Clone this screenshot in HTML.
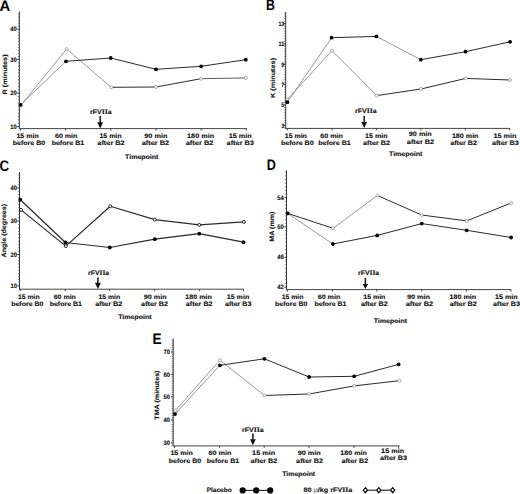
<!DOCTYPE html>
<html><head><meta charset="utf-8"><style>
html,body{margin:0;padding:0;background:#fff;overflow:hidden;}
svg{display:block;font-family:"Liberation Sans", sans-serif;text-rendering:geometricPrecision;}
</style></head><body>
<svg width="520" height="494" viewBox="0 0 520 494">
<rect width="520" height="494" fill="#fff"/>
<line x1="19.35" y1="11.6" x2="19.35" y2="129.1" stroke="#333" stroke-width="1"/>
<line x1="17.95" y1="32.22" x2="19.35" y2="32.22" stroke="#555" stroke-width="0.8"/>
<line x1="17.95" y1="35.24" x2="19.35" y2="35.24" stroke="#555" stroke-width="0.8"/>
<line x1="17.95" y1="38.26" x2="19.35" y2="38.26" stroke="#555" stroke-width="0.8"/>
<line x1="17.95" y1="41.28" x2="19.35" y2="41.28" stroke="#555" stroke-width="0.8"/>
<line x1="17.95" y1="44.3" x2="19.35" y2="44.3" stroke="#555" stroke-width="0.8"/>
<line x1="17.95" y1="47.32" x2="19.35" y2="47.32" stroke="#555" stroke-width="0.8"/>
<line x1="17.95" y1="50.34" x2="19.35" y2="50.34" stroke="#555" stroke-width="0.8"/>
<line x1="17.95" y1="53.36" x2="19.35" y2="53.36" stroke="#555" stroke-width="0.8"/>
<line x1="17.95" y1="56.38" x2="19.35" y2="56.38" stroke="#555" stroke-width="0.8"/>
<line x1="17.95" y1="62.78" x2="19.35" y2="62.78" stroke="#555" stroke-width="0.8"/>
<line x1="17.95" y1="66.16" x2="19.35" y2="66.16" stroke="#555" stroke-width="0.8"/>
<line x1="17.95" y1="69.54" x2="19.35" y2="69.54" stroke="#555" stroke-width="0.8"/>
<line x1="17.95" y1="72.92" x2="19.35" y2="72.92" stroke="#555" stroke-width="0.8"/>
<line x1="17.95" y1="76.3" x2="19.35" y2="76.3" stroke="#555" stroke-width="0.8"/>
<line x1="17.95" y1="79.68" x2="19.35" y2="79.68" stroke="#555" stroke-width="0.8"/>
<line x1="17.95" y1="83.06" x2="19.35" y2="83.06" stroke="#555" stroke-width="0.8"/>
<line x1="17.95" y1="86.44" x2="19.35" y2="86.44" stroke="#555" stroke-width="0.8"/>
<line x1="17.95" y1="89.82" x2="19.35" y2="89.82" stroke="#555" stroke-width="0.8"/>
<line x1="17.95" y1="96.54" x2="19.35" y2="96.54" stroke="#555" stroke-width="0.8"/>
<line x1="17.95" y1="99.88" x2="19.35" y2="99.88" stroke="#555" stroke-width="0.8"/>
<line x1="17.95" y1="103.22" x2="19.35" y2="103.22" stroke="#555" stroke-width="0.8"/>
<line x1="17.95" y1="106.56" x2="19.35" y2="106.56" stroke="#555" stroke-width="0.8"/>
<line x1="17.95" y1="109.9" x2="19.35" y2="109.9" stroke="#555" stroke-width="0.8"/>
<line x1="17.95" y1="113.24" x2="19.35" y2="113.24" stroke="#555" stroke-width="0.8"/>
<line x1="17.95" y1="116.58" x2="19.35" y2="116.58" stroke="#555" stroke-width="0.8"/>
<line x1="17.95" y1="119.92" x2="19.35" y2="119.92" stroke="#555" stroke-width="0.8"/>
<line x1="17.95" y1="123.26" x2="19.35" y2="123.26" stroke="#555" stroke-width="0.8"/>
<line x1="17.95" y1="26.18" x2="19.35" y2="26.18" stroke="#555" stroke-width="0.8"/>
<line x1="17.95" y1="23.16" x2="19.35" y2="23.16" stroke="#555" stroke-width="0.8"/>
<line x1="17.95" y1="20.14" x2="19.35" y2="20.14" stroke="#555" stroke-width="0.8"/>
<line x1="17.95" y1="17.12" x2="19.35" y2="17.12" stroke="#555" stroke-width="0.8"/>
<line x1="17.95" y1="14.1" x2="19.35" y2="14.1" stroke="#555" stroke-width="0.8"/>
<line x1="17.15" y1="29.2" x2="19.35" y2="29.2" stroke="#333" stroke-width="1"/>
<text x="16.85" y="31.4" font-size="6.3" text-anchor="end" font-weight="bold" fill="#111" stroke="#111" stroke-width="0.12" textLength="6.5" lengthAdjust="spacingAndGlyphs">40</text>
<line x1="17.15" y1="59.4" x2="19.35" y2="59.4" stroke="#333" stroke-width="1"/>
<text x="16.85" y="61.6" font-size="6.3" text-anchor="end" font-weight="bold" fill="#111" stroke="#111" stroke-width="0.12" textLength="6.5" lengthAdjust="spacingAndGlyphs">30</text>
<line x1="17.15" y1="93.2" x2="19.35" y2="93.2" stroke="#333" stroke-width="1"/>
<text x="16.85" y="95.4" font-size="6.3" text-anchor="end" font-weight="bold" fill="#111" stroke="#111" stroke-width="0.12" textLength="6.5" lengthAdjust="spacingAndGlyphs">20</text>
<line x1="17.15" y1="126.6" x2="19.35" y2="126.6" stroke="#333" stroke-width="1"/>
<text x="16.85" y="128.8" font-size="6.3" text-anchor="end" font-weight="bold" fill="#111" stroke="#111" stroke-width="0.12" textLength="6.5" lengthAdjust="spacingAndGlyphs">10</text>
<line x1="19.35" y1="128.6" x2="246.8" y2="128.6" stroke="#444" stroke-width="1"/>
<line x1="20.4" y1="128.6" x2="20.4" y2="130.6" stroke="#333" stroke-width="0.9"/>
<line x1="65.6" y1="128.6" x2="65.6" y2="130.6" stroke="#333" stroke-width="0.9"/>
<line x1="110.8" y1="128.6" x2="110.8" y2="130.6" stroke="#333" stroke-width="0.9"/>
<line x1="156" y1="128.6" x2="156" y2="130.6" stroke="#333" stroke-width="0.9"/>
<line x1="201.1" y1="128.6" x2="201.1" y2="130.6" stroke="#333" stroke-width="0.9"/>
<line x1="246.3" y1="128.6" x2="246.3" y2="130.6" stroke="#333" stroke-width="0.9"/>
<text x="27.6" y="137.6" font-size="6.4" text-anchor="middle" font-weight="bold" fill="#111" stroke="#111" stroke-width="0.12" textLength="22.3" lengthAdjust="spacingAndGlyphs">15 min</text>
<text x="29" y="144.8" font-size="6.4" text-anchor="middle" font-weight="bold" fill="#111" stroke="#111" stroke-width="0.12" textLength="32.3" lengthAdjust="spacingAndGlyphs">before B0</text>
<text x="66.2" y="137.6" font-size="6.4" text-anchor="middle" font-weight="bold" fill="#111" stroke="#111" stroke-width="0.12" textLength="22.4" lengthAdjust="spacingAndGlyphs">60 min</text>
<text x="67.9" y="144.8" font-size="6.4" text-anchor="middle" font-weight="bold" fill="#111" stroke="#111" stroke-width="0.12" textLength="32.5" lengthAdjust="spacingAndGlyphs">before B1</text>
<text x="110.5" y="137.6" font-size="6.4" text-anchor="middle" font-weight="bold" fill="#111" stroke="#111" stroke-width="0.12" textLength="22.2" lengthAdjust="spacingAndGlyphs">15 min</text>
<text x="111" y="144.8" font-size="6.4" text-anchor="middle" font-weight="bold" fill="#111" stroke="#111" stroke-width="0.12" textLength="27.3" lengthAdjust="spacingAndGlyphs">after B2</text>
<text x="155.9" y="137.6" font-size="6.4" text-anchor="middle" font-weight="bold" fill="#111" stroke="#111" stroke-width="0.12" textLength="23.2" lengthAdjust="spacingAndGlyphs">90 min</text>
<text x="155.4" y="144.8" font-size="6.4" text-anchor="middle" font-weight="bold" fill="#111" stroke="#111" stroke-width="0.12" textLength="27.5" lengthAdjust="spacingAndGlyphs">after B2</text>
<text x="200.6" y="137.6" font-size="6.4" text-anchor="middle" font-weight="bold" fill="#111" stroke="#111" stroke-width="0.12" textLength="27" lengthAdjust="spacingAndGlyphs">180 min</text>
<text x="199.6" y="144.8" font-size="6.4" text-anchor="middle" font-weight="bold" fill="#111" stroke="#111" stroke-width="0.12" textLength="27.8" lengthAdjust="spacingAndGlyphs">after B2</text>
<text x="240.25" y="137.6" font-size="6.4" text-anchor="middle" font-weight="bold" fill="#111" stroke="#111" stroke-width="0.12" textLength="23" lengthAdjust="spacingAndGlyphs">15 min</text>
<text x="240.25" y="144.8" font-size="6.4" text-anchor="middle" font-weight="bold" fill="#111" stroke="#111" stroke-width="0.12" textLength="27.3" lengthAdjust="spacingAndGlyphs">after B3</text>
<text x="141.75" y="159.4" font-size="6.4" text-anchor="middle" font-weight="bold" fill="#111" stroke="#111" stroke-width="0.12" textLength="33.3" lengthAdjust="spacingAndGlyphs">Timepoint</text>
<text x="7.1" y="74.45" font-size="6.4" text-anchor="middle" font-weight="bold" fill="#111" stroke="#111" stroke-width="0.12" textLength="40.1" lengthAdjust="spacingAndGlyphs" transform="rotate(-90 7.1 74.45)">R (minutes)</text>
<text x="-0.4" y="10.5" font-size="15.2" text-anchor="start" font-weight="bold" fill="#000" textLength="10.8" lengthAdjust="spacingAndGlyphs">A</text>
<text x="100.9" y="114.4" font-size="6.4" text-anchor="middle" font-weight="bold" fill="#111" stroke="#111" stroke-width="0.12" textLength="21.6" lengthAdjust="spacingAndGlyphs">rFV<tspan font-family="Liberation Serif" font-size="7.0">II</tspan>a</text>
<line x1="100.2" y1="115.9" x2="100.2" y2="122.8" stroke="#111" stroke-width="1.5"/>
<polygon points="97.3,122.3 103.1,122.3 100.2,128.4" fill="#111"/>
<line x1="20.6" y1="105.6" x2="66.6" y2="49.1" stroke="#8c8c8c" stroke-width="0.9"/>
<line x1="66.6" y1="49.1" x2="111.2" y2="87.3" stroke="#8c8c8c" stroke-width="0.9"/>
<line x1="111.2" y1="87.3" x2="156" y2="87" stroke="#2a2a2a" stroke-width="1"/>
<line x1="156" y1="87" x2="201.1" y2="78.7" stroke="#2a2a2a" stroke-width="1"/>
<line x1="201.1" y1="78.7" x2="245.9" y2="77.9" stroke="#555" stroke-width="0.95"/>
<line x1="20.6" y1="104.8" x2="66" y2="61.3" stroke="#8c8c8c" stroke-width="0.9"/>
<line x1="66" y1="61.3" x2="110.7" y2="58" stroke="#2a2a2a" stroke-width="1"/>
<line x1="110.7" y1="58" x2="156" y2="69.3" stroke="#2a2a2a" stroke-width="1"/>
<line x1="156" y1="69.3" x2="201.1" y2="66.3" stroke="#2a2a2a" stroke-width="1"/>
<line x1="201.1" y1="66.3" x2="245.8" y2="59.7" stroke="#2a2a2a" stroke-width="1"/>
<circle cx="20.6" cy="105.6" r="1.5" fill="#fff" stroke="#8a8a8a" stroke-width="0.7"/>
<circle cx="66.6" cy="49.1" r="1.5" fill="#fff" stroke="#8a8a8a" stroke-width="0.7"/>
<circle cx="111.2" cy="87.3" r="1.5" fill="#fff" stroke="#8a8a8a" stroke-width="0.7"/>
<circle cx="156" cy="87" r="1.5" fill="#fff" stroke="#8a8a8a" stroke-width="0.7"/>
<circle cx="201.1" cy="78.7" r="1.5" fill="#fff" stroke="#8a8a8a" stroke-width="0.7"/>
<circle cx="245.9" cy="77.9" r="1.5" fill="#fff" stroke="#8a8a8a" stroke-width="0.7"/>
<circle cx="20.6" cy="104.8" r="1.9" fill="#000" stroke="none" stroke-width="0"/>
<circle cx="66" cy="61.3" r="1.9" fill="#000" stroke="none" stroke-width="0"/>
<circle cx="110.7" cy="58" r="1.9" fill="#000" stroke="none" stroke-width="0"/>
<circle cx="156" cy="69.3" r="1.9" fill="#000" stroke="none" stroke-width="0"/>
<circle cx="201.1" cy="66.3" r="1.9" fill="#000" stroke="none" stroke-width="0"/>
<circle cx="245.8" cy="59.7" r="1.9" fill="#000" stroke="none" stroke-width="0"/>
<line x1="285.7" y1="11.8" x2="285.7" y2="128.9" stroke="#333" stroke-width="1"/>
<line x1="284.3" y1="26.14" x2="285.7" y2="26.14" stroke="#555" stroke-width="0.8"/>
<line x1="284.3" y1="28.69" x2="285.7" y2="28.69" stroke="#555" stroke-width="0.8"/>
<line x1="284.3" y1="31.23" x2="285.7" y2="31.23" stroke="#555" stroke-width="0.8"/>
<line x1="284.3" y1="33.78" x2="285.7" y2="33.78" stroke="#555" stroke-width="0.8"/>
<line x1="284.3" y1="36.32" x2="285.7" y2="36.32" stroke="#555" stroke-width="0.8"/>
<line x1="284.3" y1="38.86" x2="285.7" y2="38.86" stroke="#555" stroke-width="0.8"/>
<line x1="284.3" y1="41.41" x2="285.7" y2="41.41" stroke="#555" stroke-width="0.8"/>
<line x1="284.3" y1="46.49" x2="285.7" y2="46.49" stroke="#555" stroke-width="0.8"/>
<line x1="284.3" y1="49.04" x2="285.7" y2="49.04" stroke="#555" stroke-width="0.8"/>
<line x1="284.3" y1="51.58" x2="285.7" y2="51.58" stroke="#555" stroke-width="0.8"/>
<line x1="284.3" y1="54.12" x2="285.7" y2="54.12" stroke="#555" stroke-width="0.8"/>
<line x1="284.3" y1="56.67" x2="285.7" y2="56.67" stroke="#555" stroke-width="0.8"/>
<line x1="284.3" y1="59.21" x2="285.7" y2="59.21" stroke="#555" stroke-width="0.8"/>
<line x1="284.3" y1="61.76" x2="285.7" y2="61.76" stroke="#555" stroke-width="0.8"/>
<line x1="284.3" y1="66.84" x2="285.7" y2="66.84" stroke="#555" stroke-width="0.8"/>
<line x1="284.3" y1="69.39" x2="285.7" y2="69.39" stroke="#555" stroke-width="0.8"/>
<line x1="284.3" y1="71.93" x2="285.7" y2="71.93" stroke="#555" stroke-width="0.8"/>
<line x1="284.3" y1="74.47" x2="285.7" y2="74.47" stroke="#555" stroke-width="0.8"/>
<line x1="284.3" y1="77.02" x2="285.7" y2="77.02" stroke="#555" stroke-width="0.8"/>
<line x1="284.3" y1="79.56" x2="285.7" y2="79.56" stroke="#555" stroke-width="0.8"/>
<line x1="284.3" y1="82.11" x2="285.7" y2="82.11" stroke="#555" stroke-width="0.8"/>
<line x1="284.3" y1="87.19" x2="285.7" y2="87.19" stroke="#555" stroke-width="0.8"/>
<line x1="284.3" y1="89.74" x2="285.7" y2="89.74" stroke="#555" stroke-width="0.8"/>
<line x1="284.3" y1="92.28" x2="285.7" y2="92.28" stroke="#555" stroke-width="0.8"/>
<line x1="284.3" y1="94.83" x2="285.7" y2="94.83" stroke="#555" stroke-width="0.8"/>
<line x1="284.3" y1="97.37" x2="285.7" y2="97.37" stroke="#555" stroke-width="0.8"/>
<line x1="284.3" y1="99.91" x2="285.7" y2="99.91" stroke="#555" stroke-width="0.8"/>
<line x1="284.3" y1="102.46" x2="285.7" y2="102.46" stroke="#555" stroke-width="0.8"/>
<line x1="284.3" y1="107.54" x2="285.7" y2="107.54" stroke="#555" stroke-width="0.8"/>
<line x1="284.3" y1="110.09" x2="285.7" y2="110.09" stroke="#555" stroke-width="0.8"/>
<line x1="284.3" y1="112.63" x2="285.7" y2="112.63" stroke="#555" stroke-width="0.8"/>
<line x1="284.3" y1="115.17" x2="285.7" y2="115.17" stroke="#555" stroke-width="0.8"/>
<line x1="284.3" y1="117.72" x2="285.7" y2="117.72" stroke="#555" stroke-width="0.8"/>
<line x1="284.3" y1="120.26" x2="285.7" y2="120.26" stroke="#555" stroke-width="0.8"/>
<line x1="284.3" y1="122.81" x2="285.7" y2="122.81" stroke="#555" stroke-width="0.8"/>
<line x1="284.3" y1="21.06" x2="285.7" y2="21.06" stroke="#555" stroke-width="0.8"/>
<line x1="284.3" y1="18.51" x2="285.7" y2="18.51" stroke="#555" stroke-width="0.8"/>
<line x1="284.3" y1="15.97" x2="285.7" y2="15.97" stroke="#555" stroke-width="0.8"/>
<line x1="284.3" y1="13.43" x2="285.7" y2="13.43" stroke="#555" stroke-width="0.8"/>
<line x1="284.3" y1="127.89" x2="285.7" y2="127.89" stroke="#555" stroke-width="0.8"/>
<line x1="283.5" y1="23.6" x2="285.7" y2="23.6" stroke="#333" stroke-width="1"/>
<text x="284.2" y="25.8" font-size="6.3" text-anchor="end" font-weight="bold" fill="#111" stroke="#111" stroke-width="0.12" textLength="5.8" lengthAdjust="spacingAndGlyphs">13</text>
<line x1="283.5" y1="43.95" x2="285.7" y2="43.95" stroke="#333" stroke-width="1"/>
<text x="284.2" y="46.15" font-size="6.3" text-anchor="end" font-weight="bold" fill="#111" stroke="#111" stroke-width="0.12" textLength="5.8" lengthAdjust="spacingAndGlyphs">11</text>
<line x1="283.5" y1="64.3" x2="285.7" y2="64.3" stroke="#333" stroke-width="1"/>
<text x="284.2" y="66.5" font-size="6.3" text-anchor="end" font-weight="bold" fill="#111" stroke="#111" stroke-width="0.12" textLength="2.9" lengthAdjust="spacingAndGlyphs">9</text>
<line x1="283.5" y1="84.65" x2="285.7" y2="84.65" stroke="#333" stroke-width="1"/>
<text x="284.2" y="86.85" font-size="6.3" text-anchor="end" font-weight="bold" fill="#111" stroke="#111" stroke-width="0.12" textLength="2.9" lengthAdjust="spacingAndGlyphs">7</text>
<line x1="283.5" y1="105" x2="285.7" y2="105" stroke="#333" stroke-width="1"/>
<text x="284.2" y="107.2" font-size="6.3" text-anchor="end" font-weight="bold" fill="#111" stroke="#111" stroke-width="0.12" textLength="2.9" lengthAdjust="spacingAndGlyphs">5</text>
<line x1="283.5" y1="125.35" x2="285.7" y2="125.35" stroke="#333" stroke-width="1"/>
<text x="284.2" y="127.55" font-size="6.3" text-anchor="end" font-weight="bold" fill="#111" stroke="#111" stroke-width="0.12" textLength="2.9" lengthAdjust="spacingAndGlyphs">3</text>
<line x1="285.7" y1="128.4" x2="510" y2="128.4" stroke="#444" stroke-width="1"/>
<line x1="287.2" y1="128.4" x2="287.2" y2="130.4" stroke="#333" stroke-width="0.9"/>
<line x1="332" y1="128.4" x2="332" y2="130.4" stroke="#333" stroke-width="0.9"/>
<line x1="376.3" y1="128.4" x2="376.3" y2="130.4" stroke="#333" stroke-width="0.9"/>
<line x1="420.8" y1="128.4" x2="420.8" y2="130.4" stroke="#333" stroke-width="0.9"/>
<line x1="465.3" y1="128.4" x2="465.3" y2="130.4" stroke="#333" stroke-width="0.9"/>
<line x1="509.8" y1="128.4" x2="509.8" y2="130.4" stroke="#333" stroke-width="0.9"/>
<text x="295.8" y="137.6" font-size="6.4" text-anchor="middle" font-weight="bold" fill="#111" stroke="#111" stroke-width="0.12" textLength="22.1" lengthAdjust="spacingAndGlyphs">15 min</text>
<text x="297.3" y="144.9" font-size="6.4" text-anchor="middle" font-weight="bold" fill="#111" stroke="#111" stroke-width="0.12" textLength="32.6" lengthAdjust="spacingAndGlyphs">before B0</text>
<text x="331.6" y="137.6" font-size="6.4" text-anchor="middle" font-weight="bold" fill="#111" stroke="#111" stroke-width="0.12" textLength="22.8" lengthAdjust="spacingAndGlyphs">60 min</text>
<text x="334.5" y="144.9" font-size="6.4" text-anchor="middle" font-weight="bold" fill="#111" stroke="#111" stroke-width="0.12" textLength="32.3" lengthAdjust="spacingAndGlyphs">before B1</text>
<text x="376.3" y="137.6" font-size="6.4" text-anchor="middle" font-weight="bold" fill="#111" stroke="#111" stroke-width="0.12" textLength="22.6" lengthAdjust="spacingAndGlyphs">15 min</text>
<text x="376.5" y="144.9" font-size="6.4" text-anchor="middle" font-weight="bold" fill="#111" stroke="#111" stroke-width="0.12" textLength="26.8" lengthAdjust="spacingAndGlyphs">after B2</text>
<text x="420.3" y="136.2" font-size="6.4" text-anchor="middle" font-weight="bold" fill="#111" stroke="#111" stroke-width="0.12" textLength="23" lengthAdjust="spacingAndGlyphs">90 min</text>
<text x="420.5" y="143.5" font-size="6.4" text-anchor="middle" font-weight="bold" fill="#111" stroke="#111" stroke-width="0.12" textLength="27.3" lengthAdjust="spacingAndGlyphs">after B2</text>
<text x="465.2" y="137.6" font-size="6.4" text-anchor="middle" font-weight="bold" fill="#111" stroke="#111" stroke-width="0.12" textLength="26.6" lengthAdjust="spacingAndGlyphs">180 min</text>
<text x="463.6" y="144.9" font-size="6.4" text-anchor="middle" font-weight="bold" fill="#111" stroke="#111" stroke-width="0.12" textLength="26.8" lengthAdjust="spacingAndGlyphs">after B2</text>
<text x="505" y="137.6" font-size="6.4" text-anchor="middle" font-weight="bold" fill="#111" stroke="#111" stroke-width="0.12" textLength="23" lengthAdjust="spacingAndGlyphs">15 min</text>
<text x="505.4" y="144.9" font-size="6.4" text-anchor="middle" font-weight="bold" fill="#111" stroke="#111" stroke-width="0.12" textLength="27" lengthAdjust="spacingAndGlyphs">after B3</text>
<text x="405.65" y="155.6" font-size="6.4" text-anchor="middle" font-weight="bold" fill="#111" stroke="#111" stroke-width="0.12" textLength="33.3" lengthAdjust="spacingAndGlyphs">Timepoint</text>
<text x="275.2" y="77.95" font-size="6.4" text-anchor="middle" font-weight="bold" fill="#111" stroke="#111" stroke-width="0.12" textLength="40.1" lengthAdjust="spacingAndGlyphs" transform="rotate(-90 275.2 77.95)">K (minutes)</text>
<text x="266.1" y="10.4" font-size="15.2" text-anchor="start" font-weight="bold" fill="#000" textLength="8.9" lengthAdjust="spacingAndGlyphs">B</text>
<text x="365.9" y="112.7" font-size="6.4" text-anchor="middle" font-weight="bold" fill="#111" stroke="#111" stroke-width="0.12" textLength="21.6" lengthAdjust="spacingAndGlyphs">rFV<tspan font-family="Liberation Serif" font-size="7.0">II</tspan>a</text>
<line x1="364.2" y1="115.9" x2="364.2" y2="122.6" stroke="#111" stroke-width="1.5"/>
<polygon points="361.3,122.1 367.1,122.1 364.2,127.9" fill="#111"/>
<line x1="287.4" y1="99.4" x2="332" y2="50.6" stroke="#8c8c8c" stroke-width="0.9"/>
<line x1="332" y1="50.6" x2="376.8" y2="95.6" stroke="#8c8c8c" stroke-width="0.9"/>
<line x1="376.8" y1="95.6" x2="421" y2="89" stroke="#2a2a2a" stroke-width="1"/>
<line x1="421" y1="89" x2="465.7" y2="78.4" stroke="#2a2a2a" stroke-width="1"/>
<line x1="465.7" y1="78.4" x2="510.1" y2="80" stroke="#2a2a2a" stroke-width="1"/>
<line x1="287.4" y1="102.2" x2="331.6" y2="37.7" stroke="#8c8c8c" stroke-width="0.9"/>
<line x1="331.6" y1="37.7" x2="376.4" y2="36.4" stroke="#2a2a2a" stroke-width="1"/>
<line x1="376.4" y1="36.4" x2="420.8" y2="59.7" stroke="#8c8c8c" stroke-width="0.9"/>
<line x1="420.8" y1="59.7" x2="465.5" y2="51.7" stroke="#2a2a2a" stroke-width="1"/>
<line x1="465.5" y1="51.7" x2="510.1" y2="41.8" stroke="#2a2a2a" stroke-width="1"/>
<circle cx="287.4" cy="99.4" r="1.5" fill="#fff" stroke="#8a8a8a" stroke-width="0.7"/>
<circle cx="332" cy="50.6" r="1.5" fill="#fff" stroke="#8a8a8a" stroke-width="0.7"/>
<circle cx="376.8" cy="95.6" r="1.5" fill="#fff" stroke="#8a8a8a" stroke-width="0.7"/>
<circle cx="421" cy="89" r="1.5" fill="#fff" stroke="#8a8a8a" stroke-width="0.7"/>
<circle cx="465.7" cy="78.4" r="1.5" fill="#fff" stroke="#8a8a8a" stroke-width="0.7"/>
<circle cx="510.1" cy="80" r="1.5" fill="#fff" stroke="#8a8a8a" stroke-width="0.7"/>
<circle cx="287.4" cy="102.2" r="1.9" fill="#000" stroke="none" stroke-width="0"/>
<circle cx="331.6" cy="37.7" r="1.9" fill="#000" stroke="none" stroke-width="0"/>
<circle cx="376.4" cy="36.4" r="1.9" fill="#000" stroke="none" stroke-width="0"/>
<circle cx="420.8" cy="59.7" r="1.9" fill="#000" stroke="none" stroke-width="0"/>
<circle cx="465.5" cy="51.7" r="1.9" fill="#000" stroke="none" stroke-width="0"/>
<circle cx="510.1" cy="41.8" r="1.9" fill="#000" stroke="none" stroke-width="0"/>
<line x1="19.5" y1="172" x2="19.5" y2="289.7" stroke="#333" stroke-width="1"/>
<line x1="18.1" y1="191.31" x2="19.5" y2="191.31" stroke="#555" stroke-width="0.8"/>
<line x1="18.1" y1="194.62" x2="19.5" y2="194.62" stroke="#555" stroke-width="0.8"/>
<line x1="18.1" y1="197.93" x2="19.5" y2="197.93" stroke="#555" stroke-width="0.8"/>
<line x1="18.1" y1="201.24" x2="19.5" y2="201.24" stroke="#555" stroke-width="0.8"/>
<line x1="18.1" y1="204.55" x2="19.5" y2="204.55" stroke="#555" stroke-width="0.8"/>
<line x1="18.1" y1="207.86" x2="19.5" y2="207.86" stroke="#555" stroke-width="0.8"/>
<line x1="18.1" y1="211.17" x2="19.5" y2="211.17" stroke="#555" stroke-width="0.8"/>
<line x1="18.1" y1="214.48" x2="19.5" y2="214.48" stroke="#555" stroke-width="0.8"/>
<line x1="18.1" y1="217.79" x2="19.5" y2="217.79" stroke="#555" stroke-width="0.8"/>
<line x1="18.1" y1="224.44" x2="19.5" y2="224.44" stroke="#555" stroke-width="0.8"/>
<line x1="18.1" y1="227.78" x2="19.5" y2="227.78" stroke="#555" stroke-width="0.8"/>
<line x1="18.1" y1="231.12" x2="19.5" y2="231.12" stroke="#555" stroke-width="0.8"/>
<line x1="18.1" y1="234.46" x2="19.5" y2="234.46" stroke="#555" stroke-width="0.8"/>
<line x1="18.1" y1="237.8" x2="19.5" y2="237.8" stroke="#555" stroke-width="0.8"/>
<line x1="18.1" y1="241.14" x2="19.5" y2="241.14" stroke="#555" stroke-width="0.8"/>
<line x1="18.1" y1="244.48" x2="19.5" y2="244.48" stroke="#555" stroke-width="0.8"/>
<line x1="18.1" y1="247.82" x2="19.5" y2="247.82" stroke="#555" stroke-width="0.8"/>
<line x1="18.1" y1="251.16" x2="19.5" y2="251.16" stroke="#555" stroke-width="0.8"/>
<line x1="18.1" y1="257.64" x2="19.5" y2="257.64" stroke="#555" stroke-width="0.8"/>
<line x1="18.1" y1="260.78" x2="19.5" y2="260.78" stroke="#555" stroke-width="0.8"/>
<line x1="18.1" y1="263.92" x2="19.5" y2="263.92" stroke="#555" stroke-width="0.8"/>
<line x1="18.1" y1="267.06" x2="19.5" y2="267.06" stroke="#555" stroke-width="0.8"/>
<line x1="18.1" y1="270.2" x2="19.5" y2="270.2" stroke="#555" stroke-width="0.8"/>
<line x1="18.1" y1="273.34" x2="19.5" y2="273.34" stroke="#555" stroke-width="0.8"/>
<line x1="18.1" y1="276.48" x2="19.5" y2="276.48" stroke="#555" stroke-width="0.8"/>
<line x1="18.1" y1="279.62" x2="19.5" y2="279.62" stroke="#555" stroke-width="0.8"/>
<line x1="18.1" y1="282.76" x2="19.5" y2="282.76" stroke="#555" stroke-width="0.8"/>
<line x1="18.1" y1="184.69" x2="19.5" y2="184.69" stroke="#555" stroke-width="0.8"/>
<line x1="18.1" y1="181.38" x2="19.5" y2="181.38" stroke="#555" stroke-width="0.8"/>
<line x1="18.1" y1="178.07" x2="19.5" y2="178.07" stroke="#555" stroke-width="0.8"/>
<line x1="18.1" y1="174.76" x2="19.5" y2="174.76" stroke="#555" stroke-width="0.8"/>
<line x1="17.3" y1="188" x2="19.5" y2="188" stroke="#333" stroke-width="1"/>
<text x="17" y="190.2" font-size="6.3" text-anchor="end" font-weight="bold" fill="#111" stroke="#111" stroke-width="0.12" textLength="6.5" lengthAdjust="spacingAndGlyphs">40</text>
<line x1="17.3" y1="221.1" x2="19.5" y2="221.1" stroke="#333" stroke-width="1"/>
<text x="17" y="223.3" font-size="6.3" text-anchor="end" font-weight="bold" fill="#111" stroke="#111" stroke-width="0.12" textLength="6.5" lengthAdjust="spacingAndGlyphs">30</text>
<line x1="17.3" y1="254.5" x2="19.5" y2="254.5" stroke="#333" stroke-width="1"/>
<text x="17" y="256.7" font-size="6.3" text-anchor="end" font-weight="bold" fill="#111" stroke="#111" stroke-width="0.12" textLength="6.5" lengthAdjust="spacingAndGlyphs">20</text>
<line x1="17.3" y1="285.9" x2="19.5" y2="285.9" stroke="#333" stroke-width="1"/>
<text x="17" y="288.1" font-size="6.3" text-anchor="end" font-weight="bold" fill="#111" stroke="#111" stroke-width="0.12" textLength="6.5" lengthAdjust="spacingAndGlyphs">10</text>
<line x1="19.5" y1="289.2" x2="244" y2="289.2" stroke="#444" stroke-width="1"/>
<line x1="20.4" y1="289.2" x2="20.4" y2="291.2" stroke="#333" stroke-width="0.9"/>
<line x1="65.2" y1="289.2" x2="65.2" y2="291.2" stroke="#333" stroke-width="0.9"/>
<line x1="109.6" y1="289.2" x2="109.6" y2="291.2" stroke="#333" stroke-width="0.9"/>
<line x1="154.8" y1="289.2" x2="154.8" y2="291.2" stroke="#333" stroke-width="0.9"/>
<line x1="199.3" y1="289.2" x2="199.3" y2="291.2" stroke="#333" stroke-width="0.9"/>
<line x1="243.6" y1="289.2" x2="243.6" y2="291.2" stroke="#333" stroke-width="0.9"/>
<text x="28.8" y="299.1" font-size="6.4" text-anchor="middle" font-weight="bold" fill="#111" stroke="#111" stroke-width="0.12" textLength="21.8" lengthAdjust="spacingAndGlyphs">15 min</text>
<text x="27.3" y="306.3" font-size="6.4" text-anchor="middle" font-weight="bold" fill="#111" stroke="#111" stroke-width="0.12" textLength="32.3" lengthAdjust="spacingAndGlyphs">before B0</text>
<text x="64.8" y="299.1" font-size="6.4" text-anchor="middle" font-weight="bold" fill="#111" stroke="#111" stroke-width="0.12" textLength="22.2" lengthAdjust="spacingAndGlyphs">60 min</text>
<text x="65.8" y="306.3" font-size="6.4" text-anchor="middle" font-weight="bold" fill="#111" stroke="#111" stroke-width="0.12" textLength="32.3" lengthAdjust="spacingAndGlyphs">before B1</text>
<text x="109.3" y="299.1" font-size="6.4" text-anchor="middle" font-weight="bold" fill="#111" stroke="#111" stroke-width="0.12" textLength="21.6" lengthAdjust="spacingAndGlyphs">15 min</text>
<text x="108.8" y="306.3" font-size="6.4" text-anchor="middle" font-weight="bold" fill="#111" stroke="#111" stroke-width="0.12" textLength="27.3" lengthAdjust="spacingAndGlyphs">after B2</text>
<text x="155.2" y="299.1" font-size="6.4" text-anchor="middle" font-weight="bold" fill="#111" stroke="#111" stroke-width="0.12" textLength="22.7" lengthAdjust="spacingAndGlyphs">90 min</text>
<text x="154.6" y="306.3" font-size="6.4" text-anchor="middle" font-weight="bold" fill="#111" stroke="#111" stroke-width="0.12" textLength="27" lengthAdjust="spacingAndGlyphs">after B2</text>
<text x="198.6" y="299.1" font-size="6.4" text-anchor="middle" font-weight="bold" fill="#111" stroke="#111" stroke-width="0.12" textLength="26.5" lengthAdjust="spacingAndGlyphs">180 min</text>
<text x="199.2" y="306.3" font-size="6.4" text-anchor="middle" font-weight="bold" fill="#111" stroke="#111" stroke-width="0.12" textLength="26.8" lengthAdjust="spacingAndGlyphs">after B2</text>
<text x="238" y="299.1" font-size="6.4" text-anchor="middle" font-weight="bold" fill="#111" stroke="#111" stroke-width="0.12" textLength="22.5" lengthAdjust="spacingAndGlyphs">15 min</text>
<text x="238.2" y="306.3" font-size="6.4" text-anchor="middle" font-weight="bold" fill="#111" stroke="#111" stroke-width="0.12" textLength="26.3" lengthAdjust="spacingAndGlyphs">after B3</text>
<text x="134.85" y="319.4" font-size="6.4" text-anchor="middle" font-weight="bold" fill="#111" stroke="#111" stroke-width="0.12" textLength="33.3" lengthAdjust="spacingAndGlyphs">Timepoint</text>
<text x="6.5" y="230.7" font-size="6.4" text-anchor="middle" font-weight="bold" fill="#111" stroke="#111" stroke-width="0.12" textLength="53.6" lengthAdjust="spacingAndGlyphs" transform="rotate(-90 6.5 230.7)">Angle (degrees)</text>
<text x="-0.4" y="170.9" font-size="15.2" text-anchor="start" font-weight="bold" fill="#000" textLength="9.6" lengthAdjust="spacingAndGlyphs">C</text>
<text x="98.6" y="275" font-size="6.4" text-anchor="middle" font-weight="bold" fill="#111" stroke="#111" stroke-width="0.12" textLength="21.1" lengthAdjust="spacingAndGlyphs">rFV<tspan font-family="Liberation Serif" font-size="7.0">II</tspan>a</text>
<line x1="97.9" y1="277.4" x2="97.9" y2="283.2" stroke="#111" stroke-width="1.5"/>
<polygon points="94.9,282.7 100.9,282.7 97.9,288.9" fill="#111"/>
<line x1="21" y1="209.9" x2="65.8" y2="246.1" stroke="#2a2a2a" stroke-width="1.2"/>
<line x1="65.8" y1="246.1" x2="110.3" y2="206.3" stroke="#2a2a2a" stroke-width="1.2"/>
<line x1="110.3" y1="206.3" x2="154.8" y2="219.6" stroke="#2a2a2a" stroke-width="1.2"/>
<line x1="154.8" y1="219.6" x2="199.3" y2="224.9" stroke="#2a2a2a" stroke-width="1.2"/>
<line x1="199.3" y1="224.9" x2="243.9" y2="221.9" stroke="#2a2a2a" stroke-width="1.2"/>
<line x1="20.3" y1="199.7" x2="65.4" y2="242.5" stroke="#2a2a2a" stroke-width="1.2"/>
<line x1="65.4" y1="242.5" x2="109.8" y2="247.5" stroke="#2a2a2a" stroke-width="1.2"/>
<line x1="109.8" y1="247.5" x2="154.8" y2="239.2" stroke="#2a2a2a" stroke-width="1.2"/>
<line x1="154.8" y1="239.2" x2="199.3" y2="233.7" stroke="#2a2a2a" stroke-width="1.2"/>
<line x1="199.3" y1="233.7" x2="243.5" y2="242.2" stroke="#2a2a2a" stroke-width="1.2"/>
<circle cx="21" cy="209.9" r="1.5" fill="#fff" stroke="#111" stroke-width="0.9"/>
<circle cx="65.8" cy="246.1" r="1.5" fill="#fff" stroke="#111" stroke-width="0.9"/>
<circle cx="110.3" cy="206.3" r="1.5" fill="#fff" stroke="#111" stroke-width="0.9"/>
<circle cx="154.8" cy="219.6" r="1.5" fill="#fff" stroke="#111" stroke-width="0.9"/>
<circle cx="199.3" cy="224.9" r="1.5" fill="#fff" stroke="#111" stroke-width="0.9"/>
<circle cx="243.9" cy="221.9" r="1.5" fill="#fff" stroke="#111" stroke-width="0.9"/>
<circle cx="20.3" cy="199.7" r="1.9" fill="#000" stroke="none" stroke-width="0"/>
<circle cx="65.4" cy="242.5" r="1.9" fill="#000" stroke="none" stroke-width="0"/>
<circle cx="109.8" cy="247.5" r="1.9" fill="#000" stroke="none" stroke-width="0"/>
<circle cx="154.8" cy="239.2" r="1.9" fill="#000" stroke="none" stroke-width="0"/>
<circle cx="199.3" cy="233.7" r="1.9" fill="#000" stroke="none" stroke-width="0"/>
<circle cx="243.5" cy="242.2" r="1.9" fill="#000" stroke="none" stroke-width="0"/>
<line x1="286.5" y1="170.4" x2="286.5" y2="290.1" stroke="#333" stroke-width="1"/>
<line x1="285.1" y1="201.34" x2="286.5" y2="201.34" stroke="#555" stroke-width="0.8"/>
<line x1="285.1" y1="204.97" x2="286.5" y2="204.97" stroke="#555" stroke-width="0.8"/>
<line x1="285.1" y1="208.61" x2="286.5" y2="208.61" stroke="#555" stroke-width="0.8"/>
<line x1="285.1" y1="212.25" x2="286.5" y2="212.25" stroke="#555" stroke-width="0.8"/>
<line x1="285.1" y1="215.89" x2="286.5" y2="215.89" stroke="#555" stroke-width="0.8"/>
<line x1="285.1" y1="219.53" x2="286.5" y2="219.53" stroke="#555" stroke-width="0.8"/>
<line x1="285.1" y1="223.16" x2="286.5" y2="223.16" stroke="#555" stroke-width="0.8"/>
<line x1="285.1" y1="230.6" x2="286.5" y2="230.6" stroke="#555" stroke-width="0.8"/>
<line x1="285.1" y1="234.4" x2="286.5" y2="234.4" stroke="#555" stroke-width="0.8"/>
<line x1="285.1" y1="238.2" x2="286.5" y2="238.2" stroke="#555" stroke-width="0.8"/>
<line x1="285.1" y1="242" x2="286.5" y2="242" stroke="#555" stroke-width="0.8"/>
<line x1="285.1" y1="245.8" x2="286.5" y2="245.8" stroke="#555" stroke-width="0.8"/>
<line x1="285.1" y1="249.6" x2="286.5" y2="249.6" stroke="#555" stroke-width="0.8"/>
<line x1="285.1" y1="253.4" x2="286.5" y2="253.4" stroke="#555" stroke-width="0.8"/>
<line x1="285.1" y1="260.95" x2="286.5" y2="260.95" stroke="#555" stroke-width="0.8"/>
<line x1="285.1" y1="264.7" x2="286.5" y2="264.7" stroke="#555" stroke-width="0.8"/>
<line x1="285.1" y1="268.45" x2="286.5" y2="268.45" stroke="#555" stroke-width="0.8"/>
<line x1="285.1" y1="272.2" x2="286.5" y2="272.2" stroke="#555" stroke-width="0.8"/>
<line x1="285.1" y1="275.95" x2="286.5" y2="275.95" stroke="#555" stroke-width="0.8"/>
<line x1="285.1" y1="279.7" x2="286.5" y2="279.7" stroke="#555" stroke-width="0.8"/>
<line x1="285.1" y1="283.45" x2="286.5" y2="283.45" stroke="#555" stroke-width="0.8"/>
<line x1="285.1" y1="194.06" x2="286.5" y2="194.06" stroke="#555" stroke-width="0.8"/>
<line x1="285.1" y1="190.43" x2="286.5" y2="190.43" stroke="#555" stroke-width="0.8"/>
<line x1="285.1" y1="186.79" x2="286.5" y2="186.79" stroke="#555" stroke-width="0.8"/>
<line x1="285.1" y1="183.15" x2="286.5" y2="183.15" stroke="#555" stroke-width="0.8"/>
<line x1="285.1" y1="179.51" x2="286.5" y2="179.51" stroke="#555" stroke-width="0.8"/>
<line x1="285.1" y1="175.88" x2="286.5" y2="175.88" stroke="#555" stroke-width="0.8"/>
<line x1="285.1" y1="172.24" x2="286.5" y2="172.24" stroke="#555" stroke-width="0.8"/>
<line x1="284.3" y1="197.7" x2="286.5" y2="197.7" stroke="#333" stroke-width="1"/>
<text x="283.7" y="199.9" font-size="6.3" text-anchor="end" font-weight="bold" fill="#111" stroke="#111" stroke-width="0.12" textLength="6.5" lengthAdjust="spacingAndGlyphs">54</text>
<line x1="284.3" y1="226.8" x2="286.5" y2="226.8" stroke="#333" stroke-width="1"/>
<text x="283.7" y="229" font-size="6.3" text-anchor="end" font-weight="bold" fill="#111" stroke="#111" stroke-width="0.12" textLength="6.5" lengthAdjust="spacingAndGlyphs">50</text>
<line x1="284.3" y1="257.2" x2="286.5" y2="257.2" stroke="#333" stroke-width="1"/>
<text x="283.7" y="259.4" font-size="6.3" text-anchor="end" font-weight="bold" fill="#111" stroke="#111" stroke-width="0.12" textLength="6.5" lengthAdjust="spacingAndGlyphs">46</text>
<line x1="284.3" y1="287.2" x2="286.5" y2="287.2" stroke="#333" stroke-width="1"/>
<text x="283.7" y="289.4" font-size="6.3" text-anchor="end" font-weight="bold" fill="#111" stroke="#111" stroke-width="0.12" textLength="6.5" lengthAdjust="spacingAndGlyphs">42</text>
<line x1="286.5" y1="289.6" x2="511.1" y2="289.6" stroke="#444" stroke-width="1"/>
<line x1="287.5" y1="289.6" x2="287.5" y2="291.6" stroke="#333" stroke-width="0.9"/>
<line x1="332.5" y1="289.6" x2="332.5" y2="291.6" stroke="#333" stroke-width="0.9"/>
<line x1="376.8" y1="289.6" x2="376.8" y2="291.6" stroke="#333" stroke-width="0.9"/>
<line x1="421.7" y1="289.6" x2="421.7" y2="291.6" stroke="#333" stroke-width="0.9"/>
<line x1="466.3" y1="289.6" x2="466.3" y2="291.6" stroke="#333" stroke-width="0.9"/>
<line x1="511" y1="289.6" x2="511" y2="291.6" stroke="#333" stroke-width="0.9"/>
<text x="292.6" y="299.2" font-size="6.4" text-anchor="middle" font-weight="bold" fill="#111" stroke="#111" stroke-width="0.12" textLength="21.8" lengthAdjust="spacingAndGlyphs">15 min</text>
<text x="291.2" y="306.2" font-size="6.4" text-anchor="middle" font-weight="bold" fill="#111" stroke="#111" stroke-width="0.12" textLength="32.3" lengthAdjust="spacingAndGlyphs">before B0</text>
<text x="329" y="299.2" font-size="6.4" text-anchor="middle" font-weight="bold" fill="#111" stroke="#111" stroke-width="0.12" textLength="22.6" lengthAdjust="spacingAndGlyphs">60 min</text>
<text x="330.4" y="306.2" font-size="6.4" text-anchor="middle" font-weight="bold" fill="#111" stroke="#111" stroke-width="0.12" textLength="31.8" lengthAdjust="spacingAndGlyphs">before B1</text>
<text x="374.3" y="299.2" font-size="6.4" text-anchor="middle" font-weight="bold" fill="#111" stroke="#111" stroke-width="0.12" textLength="22.1" lengthAdjust="spacingAndGlyphs">15 min</text>
<text x="374.3" y="306.2" font-size="6.4" text-anchor="middle" font-weight="bold" fill="#111" stroke="#111" stroke-width="0.12" textLength="26.7" lengthAdjust="spacingAndGlyphs">after B2</text>
<text x="418.5" y="299.2" font-size="6.4" text-anchor="middle" font-weight="bold" fill="#111" stroke="#111" stroke-width="0.12" textLength="23.1" lengthAdjust="spacingAndGlyphs">90 min</text>
<text x="419.4" y="306.2" font-size="6.4" text-anchor="middle" font-weight="bold" fill="#111" stroke="#111" stroke-width="0.12" textLength="27.2" lengthAdjust="spacingAndGlyphs">after B2</text>
<text x="462.9" y="299.2" font-size="6.4" text-anchor="middle" font-weight="bold" fill="#111" stroke="#111" stroke-width="0.12" textLength="26.6" lengthAdjust="spacingAndGlyphs">180 min</text>
<text x="463.3" y="306.2" font-size="6.4" text-anchor="middle" font-weight="bold" fill="#111" stroke="#111" stroke-width="0.12" textLength="27.3" lengthAdjust="spacingAndGlyphs">after B2</text>
<text x="506.4" y="299.2" font-size="6.4" text-anchor="middle" font-weight="bold" fill="#111" stroke="#111" stroke-width="0.12" textLength="22.6" lengthAdjust="spacingAndGlyphs">15 min</text>
<text x="506.5" y="306.2" font-size="6.4" text-anchor="middle" font-weight="bold" fill="#111" stroke="#111" stroke-width="0.12" textLength="27" lengthAdjust="spacingAndGlyphs">after B3</text>
<text x="390.4" y="323.4" font-size="6.4" text-anchor="middle" font-weight="bold" fill="#111" stroke="#111" stroke-width="0.12" textLength="33.4" lengthAdjust="spacingAndGlyphs">Timepoint</text>
<text x="274" y="226.65" font-size="6.4" text-anchor="middle" font-weight="bold" fill="#111" stroke="#111" stroke-width="0.12" textLength="30.1" lengthAdjust="spacingAndGlyphs" transform="rotate(-90 274 226.65)">MA (mm)</text>
<text x="266.8" y="169.9" font-size="15.2" text-anchor="start" font-weight="bold" fill="#000" textLength="9.1" lengthAdjust="spacingAndGlyphs">D</text>
<text x="368.6" y="275.3" font-size="6.4" text-anchor="middle" font-weight="bold" fill="#111" stroke="#111" stroke-width="0.12" textLength="21.1" lengthAdjust="spacingAndGlyphs">rFV<tspan font-family="Liberation Serif" font-size="7.0">II</tspan>a</text>
<line x1="365.4" y1="277.9" x2="365.4" y2="284.4" stroke="#111" stroke-width="1.5"/>
<polygon points="362.6,283.9 368.2,283.9 365.4,289.1" fill="#111"/>
<line x1="287.7" y1="213.4" x2="333" y2="228.3" stroke="#2a2a2a" stroke-width="1"/>
<line x1="333" y1="228.3" x2="377.4" y2="195.5" stroke="#8c8c8c" stroke-width="0.9"/>
<line x1="377.4" y1="195.5" x2="421.7" y2="215" stroke="#2a2a2a" stroke-width="1"/>
<line x1="421.7" y1="215" x2="466.7" y2="220.9" stroke="#2a2a2a" stroke-width="1"/>
<line x1="466.7" y1="220.9" x2="511.1" y2="203" stroke="#2a2a2a" stroke-width="1"/>
<line x1="287.7" y1="213.4" x2="332.9" y2="244" stroke="#8c8c8c" stroke-width="0.9"/>
<line x1="332.9" y1="244" x2="377.2" y2="235.4" stroke="#2a2a2a" stroke-width="1"/>
<line x1="377.2" y1="235.4" x2="421.7" y2="223.6" stroke="#2a2a2a" stroke-width="1"/>
<line x1="421.7" y1="223.6" x2="466.7" y2="230.3" stroke="#2a2a2a" stroke-width="1"/>
<line x1="466.7" y1="230.3" x2="511.1" y2="237.5" stroke="#2a2a2a" stroke-width="1"/>
<circle cx="287.7" cy="213.4" r="1.5" fill="#fff" stroke="#8a8a8a" stroke-width="0.7"/>
<circle cx="333" cy="228.3" r="1.5" fill="#fff" stroke="#8a8a8a" stroke-width="0.7"/>
<circle cx="377.4" cy="195.5" r="1.5" fill="#fff" stroke="#8a8a8a" stroke-width="0.7"/>
<circle cx="421.7" cy="215" r="1.5" fill="#fff" stroke="#8a8a8a" stroke-width="0.7"/>
<circle cx="466.7" cy="220.9" r="1.5" fill="#fff" stroke="#8a8a8a" stroke-width="0.7"/>
<circle cx="511.1" cy="203" r="1.5" fill="#fff" stroke="#8a8a8a" stroke-width="0.7"/>
<circle cx="287.7" cy="213.4" r="1.9" fill="#000" stroke="none" stroke-width="0"/>
<circle cx="332.9" cy="244" r="1.9" fill="#000" stroke="none" stroke-width="0"/>
<circle cx="377.2" cy="235.4" r="1.9" fill="#000" stroke="none" stroke-width="0"/>
<circle cx="421.7" cy="223.6" r="1.9" fill="#000" stroke="none" stroke-width="0"/>
<circle cx="466.7" cy="230.3" r="1.9" fill="#000" stroke="none" stroke-width="0"/>
<circle cx="511.1" cy="237.5" r="1.9" fill="#000" stroke="none" stroke-width="0"/>
<line x1="173.2" y1="338.3" x2="173.2" y2="446.4" stroke="#333" stroke-width="1"/>
<line x1="171.8" y1="354.23" x2="173.2" y2="354.23" stroke="#555" stroke-width="0.8"/>
<line x1="171.8" y1="356.46" x2="173.2" y2="356.46" stroke="#555" stroke-width="0.8"/>
<line x1="171.8" y1="358.69" x2="173.2" y2="358.69" stroke="#555" stroke-width="0.8"/>
<line x1="171.8" y1="360.92" x2="173.2" y2="360.92" stroke="#555" stroke-width="0.8"/>
<line x1="171.8" y1="363.15" x2="173.2" y2="363.15" stroke="#555" stroke-width="0.8"/>
<line x1="171.8" y1="365.38" x2="173.2" y2="365.38" stroke="#555" stroke-width="0.8"/>
<line x1="171.8" y1="367.61" x2="173.2" y2="367.61" stroke="#555" stroke-width="0.8"/>
<line x1="171.8" y1="369.84" x2="173.2" y2="369.84" stroke="#555" stroke-width="0.8"/>
<line x1="171.8" y1="372.07" x2="173.2" y2="372.07" stroke="#555" stroke-width="0.8"/>
<line x1="171.8" y1="376.55" x2="173.2" y2="376.55" stroke="#555" stroke-width="0.8"/>
<line x1="171.8" y1="378.8" x2="173.2" y2="378.8" stroke="#555" stroke-width="0.8"/>
<line x1="171.8" y1="381.05" x2="173.2" y2="381.05" stroke="#555" stroke-width="0.8"/>
<line x1="171.8" y1="383.3" x2="173.2" y2="383.3" stroke="#555" stroke-width="0.8"/>
<line x1="171.8" y1="385.55" x2="173.2" y2="385.55" stroke="#555" stroke-width="0.8"/>
<line x1="171.8" y1="387.8" x2="173.2" y2="387.8" stroke="#555" stroke-width="0.8"/>
<line x1="171.8" y1="390.05" x2="173.2" y2="390.05" stroke="#555" stroke-width="0.8"/>
<line x1="171.8" y1="392.3" x2="173.2" y2="392.3" stroke="#555" stroke-width="0.8"/>
<line x1="171.8" y1="394.55" x2="173.2" y2="394.55" stroke="#555" stroke-width="0.8"/>
<line x1="171.8" y1="399.12" x2="173.2" y2="399.12" stroke="#555" stroke-width="0.8"/>
<line x1="171.8" y1="401.44" x2="173.2" y2="401.44" stroke="#555" stroke-width="0.8"/>
<line x1="171.8" y1="403.76" x2="173.2" y2="403.76" stroke="#555" stroke-width="0.8"/>
<line x1="171.8" y1="406.08" x2="173.2" y2="406.08" stroke="#555" stroke-width="0.8"/>
<line x1="171.8" y1="408.4" x2="173.2" y2="408.4" stroke="#555" stroke-width="0.8"/>
<line x1="171.8" y1="410.72" x2="173.2" y2="410.72" stroke="#555" stroke-width="0.8"/>
<line x1="171.8" y1="413.04" x2="173.2" y2="413.04" stroke="#555" stroke-width="0.8"/>
<line x1="171.8" y1="415.36" x2="173.2" y2="415.36" stroke="#555" stroke-width="0.8"/>
<line x1="171.8" y1="417.68" x2="173.2" y2="417.68" stroke="#555" stroke-width="0.8"/>
<line x1="171.8" y1="422.29" x2="173.2" y2="422.29" stroke="#555" stroke-width="0.8"/>
<line x1="171.8" y1="424.58" x2="173.2" y2="424.58" stroke="#555" stroke-width="0.8"/>
<line x1="171.8" y1="426.87" x2="173.2" y2="426.87" stroke="#555" stroke-width="0.8"/>
<line x1="171.8" y1="429.16" x2="173.2" y2="429.16" stroke="#555" stroke-width="0.8"/>
<line x1="171.8" y1="431.45" x2="173.2" y2="431.45" stroke="#555" stroke-width="0.8"/>
<line x1="171.8" y1="433.74" x2="173.2" y2="433.74" stroke="#555" stroke-width="0.8"/>
<line x1="171.8" y1="436.03" x2="173.2" y2="436.03" stroke="#555" stroke-width="0.8"/>
<line x1="171.8" y1="438.32" x2="173.2" y2="438.32" stroke="#555" stroke-width="0.8"/>
<line x1="171.8" y1="440.61" x2="173.2" y2="440.61" stroke="#555" stroke-width="0.8"/>
<line x1="171.8" y1="349.77" x2="173.2" y2="349.77" stroke="#555" stroke-width="0.8"/>
<line x1="171.8" y1="347.54" x2="173.2" y2="347.54" stroke="#555" stroke-width="0.8"/>
<line x1="171.8" y1="345.31" x2="173.2" y2="345.31" stroke="#555" stroke-width="0.8"/>
<line x1="171.8" y1="343.08" x2="173.2" y2="343.08" stroke="#555" stroke-width="0.8"/>
<line x1="171.8" y1="340.85" x2="173.2" y2="340.85" stroke="#555" stroke-width="0.8"/>
<line x1="171.8" y1="445.19" x2="173.2" y2="445.19" stroke="#555" stroke-width="0.8"/>
<line x1="171" y1="352" x2="173.2" y2="352" stroke="#333" stroke-width="1"/>
<text x="170" y="354.2" font-size="6.3" text-anchor="end" font-weight="bold" fill="#111" stroke="#111" stroke-width="0.12" textLength="6.5" lengthAdjust="spacingAndGlyphs">70</text>
<line x1="171" y1="374.3" x2="173.2" y2="374.3" stroke="#333" stroke-width="1"/>
<text x="170" y="376.5" font-size="6.3" text-anchor="end" font-weight="bold" fill="#111" stroke="#111" stroke-width="0.12" textLength="6.5" lengthAdjust="spacingAndGlyphs">60</text>
<line x1="171" y1="396.8" x2="173.2" y2="396.8" stroke="#333" stroke-width="1"/>
<text x="170" y="399" font-size="6.3" text-anchor="end" font-weight="bold" fill="#111" stroke="#111" stroke-width="0.12" textLength="6.5" lengthAdjust="spacingAndGlyphs">50</text>
<line x1="171" y1="420" x2="173.2" y2="420" stroke="#333" stroke-width="1"/>
<text x="170" y="422.2" font-size="6.3" text-anchor="end" font-weight="bold" fill="#111" stroke="#111" stroke-width="0.12" textLength="6.5" lengthAdjust="spacingAndGlyphs">40</text>
<line x1="171" y1="442.9" x2="173.2" y2="442.9" stroke="#333" stroke-width="1"/>
<text x="170" y="445.1" font-size="6.3" text-anchor="end" font-weight="bold" fill="#111" stroke="#111" stroke-width="0.12" textLength="6.5" lengthAdjust="spacingAndGlyphs">30</text>
<line x1="173.2" y1="445.9" x2="399.5" y2="445.9" stroke="#444" stroke-width="1"/>
<line x1="174.5" y1="445.9" x2="174.5" y2="447.9" stroke="#333" stroke-width="0.9"/>
<line x1="219.7" y1="445.9" x2="219.7" y2="447.9" stroke="#333" stroke-width="0.9"/>
<line x1="264.2" y1="445.9" x2="264.2" y2="447.9" stroke="#333" stroke-width="0.9"/>
<line x1="309" y1="445.9" x2="309" y2="447.9" stroke="#333" stroke-width="0.9"/>
<line x1="354" y1="445.9" x2="354" y2="447.9" stroke="#333" stroke-width="0.9"/>
<line x1="398.6" y1="445.9" x2="398.6" y2="447.9" stroke="#333" stroke-width="0.9"/>
<text x="181.6" y="455.2" font-size="6.4" text-anchor="middle" font-weight="bold" fill="#111" stroke="#111" stroke-width="0.12" textLength="22.4" lengthAdjust="spacingAndGlyphs">15 min</text>
<text x="185" y="462.5" font-size="6.4" text-anchor="middle" font-weight="bold" fill="#111" stroke="#111" stroke-width="0.12" textLength="32.3" lengthAdjust="spacingAndGlyphs">before B0</text>
<text x="220" y="455.2" font-size="6.4" text-anchor="middle" font-weight="bold" fill="#111" stroke="#111" stroke-width="0.12" textLength="23" lengthAdjust="spacingAndGlyphs">60 min</text>
<text x="223" y="462.5" font-size="6.4" text-anchor="middle" font-weight="bold" fill="#111" stroke="#111" stroke-width="0.12" textLength="32.3" lengthAdjust="spacingAndGlyphs">before B1</text>
<text x="263.6" y="455.2" font-size="6.4" text-anchor="middle" font-weight="bold" fill="#111" stroke="#111" stroke-width="0.12" textLength="23" lengthAdjust="spacingAndGlyphs">15 min</text>
<text x="263.9" y="462.5" font-size="6.4" text-anchor="middle" font-weight="bold" fill="#111" stroke="#111" stroke-width="0.12" textLength="26.7" lengthAdjust="spacingAndGlyphs">after B2</text>
<text x="309.2" y="455.2" font-size="6.4" text-anchor="middle" font-weight="bold" fill="#111" stroke="#111" stroke-width="0.12" textLength="23.1" lengthAdjust="spacingAndGlyphs">90 min</text>
<text x="309.6" y="462.5" font-size="6.4" text-anchor="middle" font-weight="bold" fill="#111" stroke="#111" stroke-width="0.12" textLength="27" lengthAdjust="spacingAndGlyphs">after B2</text>
<text x="353.6" y="455.2" font-size="6.4" text-anchor="middle" font-weight="bold" fill="#111" stroke="#111" stroke-width="0.12" textLength="26.5" lengthAdjust="spacingAndGlyphs">180 min</text>
<text x="354.8" y="462.5" font-size="6.4" text-anchor="middle" font-weight="bold" fill="#111" stroke="#111" stroke-width="0.12" textLength="26.6" lengthAdjust="spacingAndGlyphs">after B2</text>
<text x="392.6" y="453" font-size="6.4" text-anchor="middle" font-weight="bold" fill="#111" stroke="#111" stroke-width="0.12" textLength="23" lengthAdjust="spacingAndGlyphs">15 min</text>
<text x="393.5" y="460.3" font-size="6.4" text-anchor="middle" font-weight="bold" fill="#111" stroke="#111" stroke-width="0.12" textLength="26.9" lengthAdjust="spacingAndGlyphs">after B3</text>
<text x="298.7" y="475.6" font-size="6.4" text-anchor="middle" font-weight="bold" fill="#111" stroke="#111" stroke-width="0.12" textLength="33" lengthAdjust="spacingAndGlyphs">Timepoint</text>
<text x="159.5" y="395.1" font-size="6.4" text-anchor="middle" font-weight="bold" fill="#111" stroke="#111" stroke-width="0.12" textLength="49.2" lengthAdjust="spacingAndGlyphs" transform="rotate(-90 159.5 395.1)">TMA (minutes)</text>
<text x="152.4" y="343.5" font-size="15.2" text-anchor="start" font-weight="bold" fill="#000" textLength="9.1" lengthAdjust="spacingAndGlyphs">E</text>
<text x="252.9" y="431.7" font-size="6.4" text-anchor="middle" font-weight="bold" fill="#111" stroke="#111" stroke-width="0.12" textLength="21.7" lengthAdjust="spacingAndGlyphs">rFV<tspan font-family="Liberation Serif" font-size="7.0">II</tspan>a</text>
<line x1="252.9" y1="433.4" x2="252.9" y2="439.7" stroke="#111" stroke-width="1.5"/>
<polygon points="250,439.2 255.8,439.2 252.9,445.2" fill="#111"/>
<line x1="175.4" y1="410.5" x2="219.9" y2="360.2" stroke="#8c8c8c" stroke-width="0.9"/>
<line x1="219.9" y1="360.2" x2="264.6" y2="395.5" stroke="#8c8c8c" stroke-width="0.9"/>
<line x1="264.6" y1="395.5" x2="309.1" y2="394" stroke="#2a2a2a" stroke-width="1"/>
<line x1="309.1" y1="394" x2="354.2" y2="385.9" stroke="#2a2a2a" stroke-width="1"/>
<line x1="354.2" y1="385.9" x2="399.4" y2="380.7" stroke="#2a2a2a" stroke-width="1"/>
<line x1="175" y1="414.1" x2="219.9" y2="365.3" stroke="#8c8c8c" stroke-width="0.9"/>
<line x1="219.9" y1="365.3" x2="264.4" y2="358.8" stroke="#2a2a2a" stroke-width="1"/>
<line x1="264.4" y1="358.8" x2="309.1" y2="377" stroke="#2a2a2a" stroke-width="1"/>
<line x1="309.1" y1="377" x2="354.2" y2="376.3" stroke="#2a2a2a" stroke-width="1"/>
<line x1="354.2" y1="376.3" x2="398.6" y2="364.4" stroke="#2a2a2a" stroke-width="1"/>
<circle cx="175.4" cy="410.5" r="1.5" fill="#fff" stroke="#8a8a8a" stroke-width="0.7"/>
<circle cx="219.9" cy="360.2" r="1.5" fill="#fff" stroke="#8a8a8a" stroke-width="0.7"/>
<circle cx="264.6" cy="395.5" r="1.5" fill="#fff" stroke="#8a8a8a" stroke-width="0.7"/>
<circle cx="309.1" cy="394" r="1.5" fill="#fff" stroke="#8a8a8a" stroke-width="0.7"/>
<circle cx="354.2" cy="385.9" r="1.5" fill="#fff" stroke="#8a8a8a" stroke-width="0.7"/>
<circle cx="399.4" cy="380.7" r="1.5" fill="#fff" stroke="#8a8a8a" stroke-width="0.7"/>
<circle cx="175" cy="414.1" r="1.9" fill="#000" stroke="none" stroke-width="0"/>
<circle cx="219.9" cy="365.3" r="1.9" fill="#000" stroke="none" stroke-width="0"/>
<circle cx="264.4" cy="358.8" r="1.9" fill="#000" stroke="none" stroke-width="0"/>
<circle cx="309.1" cy="377" r="1.9" fill="#000" stroke="none" stroke-width="0"/>
<circle cx="354.2" cy="376.3" r="1.9" fill="#000" stroke="none" stroke-width="0"/>
<circle cx="398.6" cy="364.4" r="1.9" fill="#000" stroke="none" stroke-width="0"/>
<text x="219.2" y="492.3" font-size="6.4" text-anchor="middle" font-weight="bold" fill="#111" stroke="#111" stroke-width="0.12" textLength="25" lengthAdjust="spacingAndGlyphs">Placebo</text>
<line x1="242.7" y1="490.4" x2="270.2" y2="490.4" stroke="#222" stroke-width="1.1"/>
<circle cx="242.7" cy="490.4" r="3.1" fill="#000" stroke="none" stroke-width="0"/>
<circle cx="256.2" cy="490.4" r="3.1" fill="#000" stroke="none" stroke-width="0"/>
<circle cx="270.2" cy="490.4" r="3.1" fill="#000" stroke="none" stroke-width="0"/>
<text x="327.9" y="492.3" font-size="6.4" text-anchor="middle" font-weight="bold" fill="#111" stroke="#111" stroke-width="0.12" textLength="48.8" lengthAdjust="spacingAndGlyphs">80 <tspan fill="#888" stroke="#888">&#956;</tspan>/kg rFV<tspan font-family="Liberation Serif" font-size="7.0">II</tspan>a</text>
<line x1="365.4" y1="490.2" x2="392.7" y2="490.2" stroke="#222" stroke-width="1.1"/>
<polygon points="365.4,487.7 367.5,490.2 365.4,492.7 363.3,490.2" fill="#fff" stroke="#111" stroke-width="1.25"/>
<polygon points="378.8,487.7 380.9,490.2 378.8,492.7 376.7,490.2" fill="#fff" stroke="#111" stroke-width="1.25"/>
<polygon points="392.7,487.7 394.8,490.2 392.7,492.7 390.6,490.2" fill="#fff" stroke="#111" stroke-width="1.25"/>
</svg>
</body></html>
